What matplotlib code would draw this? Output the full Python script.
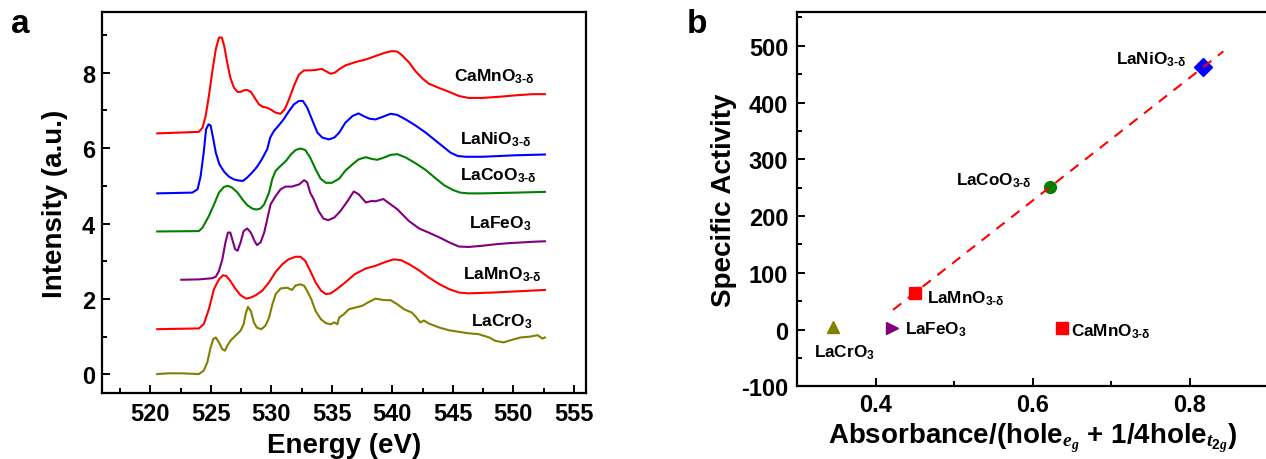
import numpy as np
import matplotlib
matplotlib.use("Agg")
import matplotlib.pyplot as plt
from matplotlib.ticker import MultipleLocator

plt.rcParams['font.family'] = ['Liberation Sans', 'DejaVu Sans']
plt.rcParams['font.weight'] = 'bold'
plt.rcParams['axes.unicode_minus'] = False
plt.rcParams['mathtext.fontset'] = 'custom'
plt.rcParams['mathtext.rm'] = 'Liberation Sans:bold'
plt.rcParams['mathtext.bf'] = 'Liberation Sans:bold'
plt.rcParams['mathtext.it'] = 'Liberation Serif:italic'

# ---------------- Panel a data (O K-edge spectra, offset) ----------------
camno3_e = [520.56, 524.0, 524.3, 524.56, 524.83, 525.1, 525.4, 525.66, 525.9, 526.1, 526.35, 526.6, 526.9, 527.2,
            527.45, 527.7, 528.0, 528.3, 528.6, 528.97, 529.3, 529.65, 529.9, 530.35, 530.75, 531.1, 531.45, 531.86,
            532.27, 532.7, 533.2, 533.65, 534.15, 534.5, 534.9, 535.25, 535.6, 536.1, 536.95, 537.8, 538.6, 539.4,
            539.96, 540.4, 540.8, 541.4, 541.9, 542.5, 543.0, 543.8, 544.7, 545.5, 546.3, 547.4, 548.8, 550.2,
            551.6, 552.6]
camno3_i = [6.39, 6.43, 6.54, 6.85, 7.38, 8.0, 8.62, 8.93, 8.93, 8.7, 8.26, 7.87, 7.60, 7.49, 7.49, 7.53, 7.54, 7.49,
            7.34, 7.16, 7.09, 7.07, 7.03, 6.94, 6.91, 7.03, 7.29, 7.65, 7.95, 8.06, 8.06, 8.07, 8.10, 8.04, 7.97, 8.0,
            8.09, 8.19, 8.28, 8.35, 8.44, 8.53, 8.57, 8.56, 8.46, 8.26, 8.04, 7.84, 7.71, 7.60, 7.49, 7.38, 7.33,
            7.33, 7.36, 7.40, 7.43, 7.43]

lanio3_e = [520.56, 523.46, 523.9, 524.15, 524.4, 524.6, 524.8, 524.97, 525.2, 525.4, 525.7, 526.1, 526.5, 526.9,
            527.3, 527.65, 528.0, 528.4, 528.8, 529.2, 529.65, 529.9, 530.2, 530.6, 531.0, 531.45, 531.86, 532.27,
            532.6, 532.96, 533.4, 533.8, 534.2, 534.75, 535.2, 535.6, 536.1, 536.7, 537.2, 537.6, 538.1, 538.6,
            539.2, 539.85, 540.4, 541.1, 541.9, 542.75, 543.6, 544.3, 544.8, 545.4, 546.1, 547.4, 548.8, 550.2, 552.6]
lanio3_i = [4.80, 4.82, 4.91, 5.26, 5.88, 6.5, 6.63, 6.60, 6.23, 5.88, 5.57, 5.37, 5.24, 5.17, 5.14, 5.13, 5.22, 5.35,
            5.50, 5.70, 5.97, 6.28, 6.45, 6.60, 6.76, 6.98, 7.16, 7.25, 7.25, 7.07, 6.72, 6.41, 6.28, 6.23, 6.28, 6.41,
            6.67, 6.85, 6.92, 6.85, 6.78, 6.76, 6.83, 6.91, 6.88, 6.76, 6.60, 6.41, 6.19, 6.01, 5.88, 5.79, 5.77,
            5.77, 5.79, 5.81, 5.83]

lacoo3_e = [520.56, 524.0, 524.3, 524.83, 525.25, 525.66, 526.07, 526.4, 526.76, 527.2, 527.6, 528.0, 528.4, 528.75,
            529.1, 529.4, 529.8, 530.07, 530.35, 530.76, 531.2, 531.6, 532.0, 532.4, 532.8, 533.2, 533.65, 534.06,
            534.5, 535.0, 535.6, 536.1, 536.7, 537.2, 537.8, 538.2, 538.75, 539.3, 539.85, 540.4, 541.1, 541.9,
            542.75, 543.6, 544.3, 545.0, 545.6, 546.3, 547.4, 548.8, 550.2, 552.6]
lacoo3_i = [3.79, 3.80, 3.89, 4.2, 4.5, 4.82, 4.97, 5.0, 4.95, 4.82, 4.64, 4.49, 4.40, 4.37, 4.40, 4.51, 4.82, 5.18,
            5.40, 5.53, 5.66, 5.83, 5.95, 5.99, 5.95, 5.75, 5.44, 5.19, 5.08, 5.08, 5.19, 5.40, 5.57, 5.70, 5.76, 5.72,
            5.69, 5.75, 5.82, 5.84, 5.75, 5.60, 5.42, 5.19, 5.01, 4.89, 4.82, 4.80, 4.80, 4.81, 4.82, 4.84]

lafeo3_e = [522.55, 524.0, 525.1, 525.4, 525.66, 525.94, 526.2, 526.4, 526.6, 526.8, 527.0, 527.2, 527.45, 527.7,
            528.0, 528.3, 528.6, 528.8, 529.1, 529.4, 529.65, 529.93, 530.35, 530.76, 531.17, 531.7, 532.3, 532.7,
            532.96, 533.2, 533.5, 533.9, 534.3, 534.7, 535.2, 535.7, 536.3, 536.8, 537.2, 537.8, 538.3, 538.6,
            539.25, 539.8, 540.4, 541.35, 542.2, 543.0, 543.9, 544.7, 545.5, 546.3, 547.4, 548.5, 549.6, 550.7,
            551.8, 552.6]
lafeo3_i = [2.51, 2.52, 2.55, 2.59, 2.74, 3.05, 3.50, 3.76, 3.76, 3.54, 3.32, 3.28, 3.50, 3.80, 3.87, 3.76, 3.54, 3.43,
            3.50, 3.76, 4.11, 4.51, 4.73, 4.91, 4.98, 4.98, 5.04, 5.15, 5.09, 4.82, 4.64, 4.33, 4.13, 4.09, 4.16, 4.33,
            4.6, 4.85, 4.78, 4.56, 4.6, 4.59, 4.65, 4.52, 4.38, 4.07, 3.87, 3.76, 3.63, 3.50, 3.39, 3.38, 3.41, 3.45,
            3.48, 3.50, 3.52, 3.53]

lamno3_e = [520.56, 524.0, 524.4, 524.83, 525.25, 525.66, 526.0, 526.27, 526.6, 527.0, 527.45, 527.9, 528.3, 528.7,
            529.24, 529.8, 530.35, 530.9, 531.4, 532.0, 532.4, 532.8, 533.2, 533.65, 534.1, 534.5, 534.9, 535.4,
            536.1, 536.9, 537.8, 538.6, 539.4, 540.1, 540.7, 541.4, 542.2, 543.0, 543.9, 544.7, 545.5, 546.3,
            548.2, 550.1, 552.6]
lamno3_i = [1.20, 1.22, 1.33, 1.73, 2.26, 2.52, 2.63, 2.61, 2.48, 2.28, 2.10, 2.01, 2.04, 2.10, 2.22, 2.44, 2.72, 2.92,
            3.05, 3.12, 3.12, 3.01, 2.75, 2.44, 2.22, 2.13, 2.15, 2.26, 2.44, 2.66, 2.81, 2.88, 2.98, 3.05, 3.03, 2.92,
            2.76, 2.57, 2.39, 2.26, 2.17, 2.15, 2.17, 2.20, 2.24]

lacro3_e = [520.56, 521.5, 522.6, 524.0, 524.4, 524.7, 524.97, 525.2, 525.4, 525.66, 525.94, 526.16, 526.35, 526.6,
            527.0, 527.45, 527.7, 527.9, 528.06, 528.3, 528.55, 528.8, 529.16, 529.5, 529.8, 530.07, 530.35, 530.76,
            531.3, 531.7, 532.0, 532.4, 532.7, 532.96, 533.3, 533.65, 534.1, 534.5, 534.9, 535.2, 535.45, 535.6,
            536.0, 536.4, 536.9, 537.5, 538.05, 538.6, 539.3, 539.85, 540.4, 540.95, 541.6, 541.9, 542.3, 542.6,
            543.0, 543.9, 544.7, 545.5, 546.3, 547.1, 548.0, 548.5, 549.2, 549.9, 550.6, 551.3, 552.0, 552.4, 552.6]
lacro3_i = [0.01, 0.03, 0.03, 0.01, 0.10, 0.32, 0.71, 0.94, 0.98, 0.85, 0.67, 0.63, 0.76, 0.89, 1.02, 1.16, 1.33, 1.64,
            1.79, 1.68, 1.38, 1.24, 1.20, 1.29, 1.50, 1.85, 2.13, 2.28, 2.30, 2.24, 2.36, 2.39, 2.35, 2.21, 1.99, 1.68,
            1.46, 1.36, 1.33, 1.38, 1.33, 1.51, 1.60, 1.73, 1.77, 1.82, 1.92, 2.01, 1.97, 1.97, 1.86, 1.73, 1.64,
            1.54, 1.38, 1.43, 1.35, 1.24, 1.17, 1.13, 1.09, 1.07, 0.98, 0.89, 0.85, 0.92, 0.98, 1.0, 1.04, 0.95, 0.98]

spectra_labels = [r'CaMnO$_{\mathregular{3‐δ}}$', r'LaNiO$_{\mathregular{3‐δ}}$', r'LaCoO$_{\mathregular{3‐δ}}$',
                  r'LaFeO$_{\mathregular{3}}$', r'LaMnO$_{\mathregular{3‐δ}}$', r'LaCrO$_{\mathregular{3}}$']
spectra_colors = ['#ff0000', '#0000ff', '#008000', '#800080', '#ff0000', '#808000']
label_pos_e = [545.1, 545.55, 545.6, 546.3, 545.8, 546.5]
label_pos_i = [7.80, 6.13, 5.16, 3.89, 2.54, 1.29]

# ---------------- Panel b data ----------------
materials = ['LaCrO3', 'LaFeO3', 'LaMnO3', 'LaCoO3', 'CaMnO3', 'LaNiO3']
absorbance = [0.346, 0.421, 0.450, 0.622, 0.637, 0.817]
activity = [5, 3, 65, 251, 2, 462]
b_markers = ['^', '>', 's', 'o', 's', 'D']
b_colors = ['#808000', '#800080', '#ff0000', '#008000', '#ff0000', '#0000ff']
b_sizes = [9, 9, 8, 8.5, 8, 9]
b_labels = [r'LaCrO$_{\mathregular{3}}$', r'LaFeO$_{\mathregular{3}}$', r'LaMnO$_{\mathregular{3‐δ}}$',
            r'LaCoO$_{\mathregular{3‐δ}}$', r'CaMnO$_{\mathregular{3‐δ}}$', r'LaNiO$_{\mathregular{3‐δ}}$']
b_lab_x = [0.321, 0.437, 0.465, 0.599, 0.6485, 0.795]
b_lab_y = [-47, -7, 48, 256, -11, 469]
b_lab_ha = ['left', 'left', 'left', 'right', 'left', 'right']
fit_members = ['LaMnO3', 'LaCoO3', 'LaNiO3']
fit_range = [0.422, 0.843]

fig = plt.figure(figsize=(12.66, 4.6), dpi=100)

# ---------------- Panel a ----------------
axa = fig.add_axes([0.0806, 0.1428, 0.3823, 0.8283])
series = [(camno3_e, camno3_i), (lanio3_e, lanio3_i), (lacoo3_e, lacoo3_i),
          (lafeo3_e, lafeo3_i), (lamno3_e, lamno3_i), (lacro3_e, lacro3_i)]
for (e, i), c in zip(series, spectra_colors):
    axa.plot(e, i, color=c, lw=1.5)
for lab, c, x, y in zip(spectra_labels, spectra_colors, label_pos_e, label_pos_i):
    axa.text(x, y, lab, fontsize=12.5, fontweight='bold', ha='left', va='baseline')
axa.set_xlim(516, 556)
axa.set_ylim(-0.5, 9.6)
axa.xaxis.set_major_locator(MultipleLocator(5))
axa.xaxis.set_minor_locator(MultipleLocator(2.5))
axa.yaxis.set_major_locator(MultipleLocator(2))
axa.yaxis.set_minor_locator(MultipleLocator(1))
axa.set_xlabel('Energy (eV)', fontsize=20, fontweight='bold', labelpad=5)
axa.set_ylabel('Intensity (a.u.)', fontsize=20, fontweight='bold', labelpad=10)

# ---------------- Panel b ----------------
axb = fig.add_axes([0.6298, 0.158, 0.3718, 0.8143])
for x, y, m, c, s in zip(absorbance, activity, b_markers, b_colors, b_sizes):
    axb.plot([x], [y], marker=m, color=c, ms=s, mec=c, ls='none', zorder=3)
fx = [absorbance[materials.index(n)] for n in fit_members]
fy = [activity[materials.index(n)] for n in fit_members]
slope, intercept = np.polyfit(fx, fy, 1)
xr = np.array(fit_range)
axb.plot(xr, slope * xr + intercept, color='#ff0000', lw=1.5, dashes=(5, 4), zorder=4)
for lab, x, y, ha in zip(b_labels, b_lab_x, b_lab_y, b_lab_ha):
    axb.text(x, y, lab, fontsize=12.3, fontweight='bold', ha=ha, va='baseline')
axb.set_xlim(0.3, 0.9)
axb.set_ylim(-100, 560)
axb.xaxis.set_major_locator(MultipleLocator(0.2))
axb.xaxis.set_minor_locator(MultipleLocator(0.1))
axb.yaxis.set_major_locator(MultipleLocator(100))
axb.yaxis.set_minor_locator(MultipleLocator(50))
axb.set_xticks([0.4, 0.6, 0.8])
axb.set_xticklabels(['0.4', '0.6', '0.8'])
axb.set_xlabel(r'Absorbance/(hole$_{\mathit{e}_{\mathit{g}}}$ + 1/4hole$_{\mathit{t}_{\mathit{2g}}}$)',
               fontsize=20, fontweight='bold', labelpad=3)
axb.set_ylabel('Specific Activity', fontsize=20, fontweight='bold', labelpad=3)

for ax, px, py in [(axa, 6, 5), (axb, 5, 6.5)]:
    for sp in ax.spines.values():
        sp.set_linewidth(1.6)
    ax.tick_params(which='both', direction='in', top=False, right=False, width=1.4)
    ax.tick_params(which='major', length=6)
    ax.tick_params(which='minor', length=3.5)
    ax.tick_params(axis='x', which='major', pad=px)
    ax.tick_params(axis='y', which='major', pad=py)
    for t in ax.get_xticklabels() + ax.get_yticklabels():
        t.set_fontsize(17)
        t.set_fontweight('bold')

fig.text(0.0087, 0.928, 'a', fontsize=24, fontweight='bold', ha='left', va='baseline')
fig.text(0.5423, 0.928, 'b', fontsize=24, fontweight='bold', ha='left', va='baseline')

fig.savefig('out.png', dpi=100)
